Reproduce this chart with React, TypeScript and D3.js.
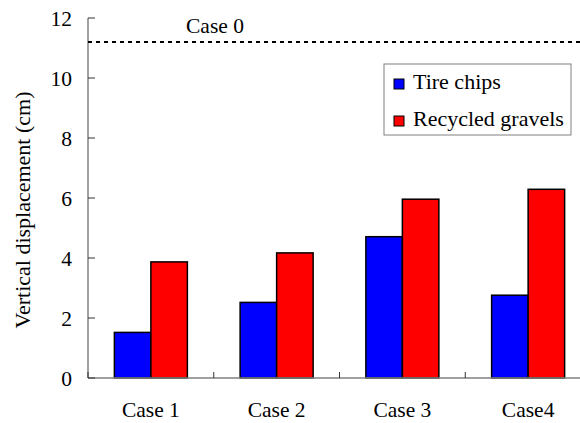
import React from "react";
import * as d3 from "d3";

const categories = ["Case 1", "Case 2", "Case 3", "Case4"];
const seriesNames = ["Tire chips", "Recycled gravels"];
const tireChips = [1.52, 2.52, 4.71, 2.76];
const recycledGravels = [3.87, 4.17, 5.96, 6.29];
const seriesColors = ["#0000FF", "#FF0000"];
const yTicks = [0, 2, 4, 6, 8, 10, 12];
const case0Value = 11.2;
const case0Label = "Case 0";
const yLabel = "Vertical displacement (cm)";

const W = 580;
const H = 423;
const left = 88;
const right = 591;
const top = 18;
const bottom = 378;
const font = "Liberation Serif, Times New Roman, Times, serif";

export default function App() {
  const series = [tireChips, recycledGravels];
  const x = d3.scaleBand<string>().domain(categories).range([left, right]).paddingInner(0).paddingOuter(0);
  const groupW = 73;
  const x1 = d3.scaleBand<string>().domain(seriesNames).range([0, groupW]).padding(0);
  const y = d3.scaleLinear().domain([0, 12]).range([bottom, top]);
  const boundaries = categories.map((c) => x(c) as number).concat([right]);
  const smallText = { fontFamily: font, fontSize: 21.5 } as React.CSSProperties;
  const bigText = { fontFamily: font, fontSize: 22 } as React.CSSProperties;

  return (
    <svg width={W} height={H} style={{ position: "absolute", left: 0, top: 0, background: "#fff" }}>
      {categories.map((c, i) => {
        const gx = (x(c) as number) + (x.bandwidth() - groupW) / 2;
        return (
          <g key={c}>
            {series.map((s, j) => (
              <rect
                key={j}
                x={gx + (x1(seriesNames[j]) as number)}
                y={y(s[i])}
                width={x1.bandwidth()}
                height={y(0) - y(s[i])}
                fill={seriesColors[j]}
                stroke="#000"
                strokeWidth={1.5}
              />
            ))}
          </g>
        );
      })}
      <line x1={left} x2={right} y1={bottom} y2={bottom} stroke="#808080" strokeWidth={1.5} />
      <line x1={left} x2={left} y1={top} y2={bottom} stroke="#808080" strokeWidth={1.5} />
      {yTicks.map((t) => (
        <g key={t}>
          <line x1={left} x2={left + 7} y1={y(t)} y2={y(t)} stroke="#333" strokeWidth={1} />
          <text x={72} y={y(t) + 7.5} textAnchor="end" style={smallText} fill="#000">
            {t}
          </text>
        </g>
      ))}
      {boundaries.map((b, i) => (
        <line key={i} x1={b} x2={b} y1={bottom} y2={bottom - 6} stroke="#333" strokeWidth={1} />
      ))}
      {categories.map((c) => (
        <text
          key={c}
          x={(x(c) as number) + x.bandwidth() / 2}
          y={417}
          textAnchor="middle"
          style={smallText}
          fill="#000"
        >
          {c}
        </text>
      ))}
      <line
        x1={left}
        x2={W}
        y1={y(case0Value)}
        y2={y(case0Value)}
        stroke="#000"
        strokeWidth={2}
        strokeDasharray="4,4"
      />
      <text x={186} y={33} style={smallText} fill="#000">
        {case0Label}
      </text>
      <text
        transform={`translate(30,210) rotate(-90)`}
        textAnchor="middle"
        style={bigText}
        fill="#000"
      >
        {yLabel}
      </text>
      <rect x={384} y={64} width={187} height={71} fill="#fff" stroke="#808080" strokeWidth={1} />
      {seriesNames.map((n, j) => (
        <g key={n}>
          <rect x={394} y={79 + j * 37} width={10} height={10} fill={seriesColors[j]} stroke="#000" strokeWidth={1} />
          <text x={413} y={89 + j * 37} style={bigText} fill="#000">
            {n}
          </text>
        </g>
      ))}
    </svg>
  );
}
